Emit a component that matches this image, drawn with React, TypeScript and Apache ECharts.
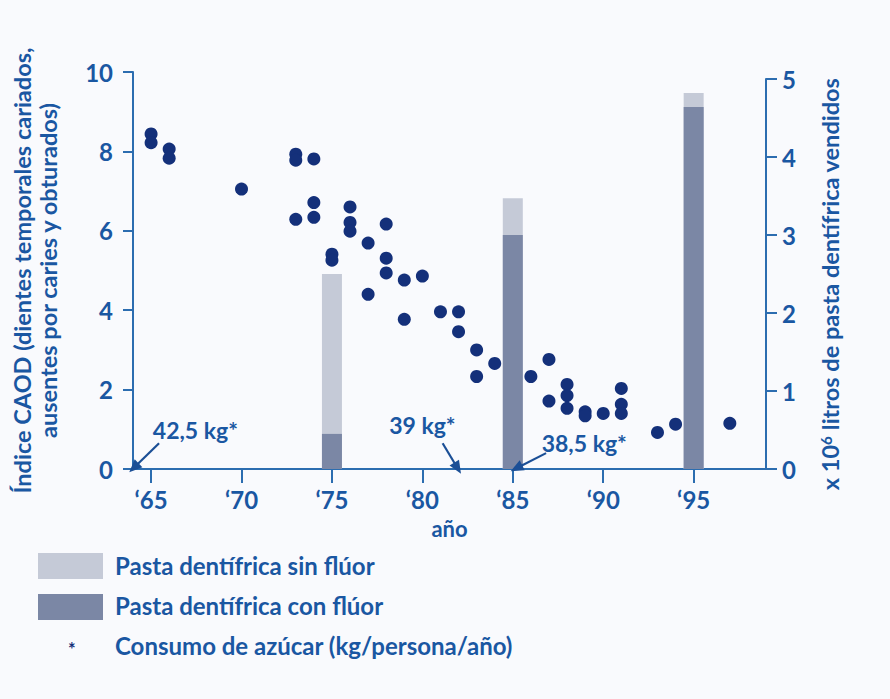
import React, { useEffect, useRef } from "react";
import * as echarts from "echarts";

// Year ticks on the x axis
const yearTicks = [1965, 1970, 1975, 1980, 1985, 1990, 1995];

// CAOD index observations: [year, index]
const caodPoints: [number, number][] = [
  [1965, 8.44], [1965, 8.22],
  [1966, 8.06], [1966, 7.83],
  [1970, 7.05],
  [1973, 7.93], [1973, 7.78], [1973, 6.29],
  [1974, 7.81], [1974, 6.71], [1974, 6.34],
  [1975, 5.41], [1975, 5.26],
  [1976, 6.6], [1976, 6.21], [1976, 5.99],
  [1977, 5.69], [1977, 4.4],
  [1978, 6.17], [1978, 5.31], [1978, 4.94],
  [1979, 4.76], [1979, 3.77],
  [1980, 4.86],
  [1981, 3.96],
  [1982, 3.96], [1982, 3.46],
  [1983, 3.0], [1983, 2.33],
  [1984, 2.66],
  [1986, 2.33],
  [1987, 2.76], [1987, 1.71],
  [1988, 2.13], [1988, 1.85], [1988, 1.53],
  [1989, 1.44], [1989, 1.34],
  [1990, 1.4],
  [1991, 2.03], [1991, 1.63], [1991, 1.4],
  [1993, 0.92],
  [1994, 1.13],
  [1997, 1.15],
];

// Toothpaste sold (x 10^6 litres)
const barYears = [1975, 1985, 1995];
const conFluor = [0.45, 3.0, 4.64];
const sinFluor = [2.05, 0.47, 0.18];

// Sugar consumption notes
const sugarLabels = ["42,5 kg*", "39 kg*", "38,5 kg*"];
const sugarLabelAt: [number, number][] = [[1967.45, 0.98], [1980.0, 1.11], [1988.95, 0.66]];
const sugarArrowFrom: [number, number][] = [[1965.44, 0.65], [1981.12, 0.65], [1986.84, 0.4]];
const sugarArrowTo: [number, number][] = [[1964.05, 0.03], [1981.95, 0.02], [1985.2, 0.02]];

const legendLabels = [
  "Pasta dentífrica sin flúor",
  "Pasta dentífrica con flúor",
  "Consumo de azúcar (kg/persona/año)",
];

const FONT = "Lato, 'DejaVu Sans Condensed', sans-serif";
const TEXT = "#1a57a2";
const AXIS = "#2c6db0";
const DOT = "#14307a";
const LIGHT = "#c5cad7";
const DARK = "#7b87a5";

export default function App() {
  const ref = useRef<HTMLDivElement>(null);
  useEffect(() => {
    if (!ref.current) return;
    const chart = echarts.init(ref.current, undefined, { renderer: "svg" });
    const axisLabelStyle = { color: TEXT, fontFamily: FONT, fontWeight: "bold" as const, fontSize: 24 };
    const totals = barYears.map((_, i) => conFluor[i] + sinFluor[i]);
    chart.setOption({
      animation: false,
      backgroundColor: "#f9fafd",
      textStyle: { fontFamily: FONT },
      grid: [
        { left: 133, right: 124, top: 72, bottom: 230 },
        { left: 133, right: 124, top: 79, bottom: 230 },
      ],
      xAxis: [
        {
          type: "value",
          gridIndex: 0,
          min: 1964,
          max: 1999,
          splitLine: { show: false },
          axisLine: { lineStyle: { color: AXIS, width: 2 } },
          axisTick: { show: true, length: 14, lineStyle: { color: AXIS, width: 2 }, customValues: yearTicks },
          axisLabel: {
            ...axisLabelStyle,
            margin: 18,
            customValues: yearTicks,
            formatter: (v: number) => "\u2018" + String(v).slice(2),
          },
          name: "año",
          nameLocation: "middle",
          nameGap: 48,
          nameTextStyle: { ...axisLabelStyle, fontSize: 22 },
        },
        {
          type: "value",
          gridIndex: 1,
          min: 1964,
          max: 1999,
          show: false,
        },
      ],
      yAxis: [
        {
          type: "value",
          gridIndex: 0,
          position: "left",
          min: 0,
          max: 10,
          interval: 2,
          splitLine: { show: false },
          axisLine: { show: true, lineStyle: { color: AXIS, width: 2 } },
          axisTick: { show: true, length: 10, lineStyle: { color: AXIS, width: 2 } },
          axisLabel: { ...axisLabelStyle, margin: 20 },
          name: "Índice CAOD (dientes temporales cariados,\nausentes por caries y obturados)",
          nameLocation: "middle",
          nameGap: 72,
          nameTextStyle: { ...axisLabelStyle, fontSize: 23.5, lineHeight: 26 },
        },
        {
          type: "value",
          gridIndex: 1,
          position: "right",
          min: 0,
          max: 5,
          interval: 1,
          splitLine: { show: false },
          axisLine: { show: true, lineStyle: { color: AXIS, width: 2 } },
          axisTick: { show: true, length: 11, lineStyle: { color: AXIS, width: 2 } },
          axisLabel: { ...axisLabelStyle, margin: 16 },
          name: "x 10{sup|6} litros de pasta dentífrica vendidos",
          nameLocation: "middle",
          nameGap: 52,
          nameTextStyle: {
            ...axisLabelStyle,
            fontSize: 23.5,
            padding: [0, 20, 0, 0],
            rich: {
              sup: { color: TEXT, fontFamily: FONT, fontWeight: "bold", fontSize: 15, verticalAlign: "top", lineHeight: 23 },
            },
          },
        },
      ],
      series: [
        {
          type: "bar",
          name: legendLabels[0],
          xAxisIndex: 1,
          yAxisIndex: 1,
          barWidth: 20,
          barGap: "-100%",
          itemStyle: { color: LIGHT },
          data: barYears.map((y, i) => [y, totals[i]]),
        },
        {
          type: "bar",
          name: legendLabels[1],
          xAxisIndex: 1,
          yAxisIndex: 1,
          barWidth: 20,
          barGap: "-100%",
          itemStyle: { color: DARK },
          data: barYears.map((y, i) => [y, conFluor[i]]),
        },
        {
          type: "scatter",
          name: "CAOD",
          xAxisIndex: 0,
          yAxisIndex: 0,
          symbolSize: 13,
          itemStyle: { color: DOT, opacity: 1 },
          data: caodPoints,
          z: 5,
        },
        {
          type: "scatter",
          name: "azucar",
          xAxisIndex: 0,
          yAxisIndex: 0,
          symbolSize: 0,
          silent: true,
          z: 6,
          itemStyle: { opacity: 1 },
          label: {
            show: true,
            position: "inside",
            color: TEXT,
            fontFamily: FONT,
            fontWeight: "bold",
            fontSize: 23,
            formatter: (p: any) => sugarLabels[p.dataIndex],
          },
          data: sugarLabelAt,
          markLine: {
            silent: true,
            symbol: ["none", "triangle"],
            symbolSize: [11, 13],
            label: { show: false },
            lineStyle: { color: "#1b4f96", width: 2.2, type: "solid", opacity: 1 },
            data: sugarArrowFrom.map((f, i) => [{ coord: f }, { coord: sugarArrowTo[i] }]),
          },
        },
      ],
      graphic: [
        { type: "rect", left: 38, top: 553, shape: { width: 65, height: 26 }, style: { fill: LIGHT } },
        { type: "rect", left: 38, top: 594, shape: { width: 65, height: 26 }, style: { fill: DARK } },
        {
          type: "text",
          left: 68,
          top: 640,
          style: { text: "*", fill: DOT, font: "bold 18px " + FONT },
        },
        ...legendLabels.map((t, i) => ({
          type: "text",
          left: 115,
          top: [553, 593, 633][i],
          style: { text: t, fill: TEXT, font: "bold 24px " + FONT },
        })),
      ],
    });
    return () => chart.dispose();
  }, []);
  return (
    <div
      ref={ref}
      style={{ position: "absolute", left: 0, top: 0, width: 890, height: 699 }}
    />
  );
}
